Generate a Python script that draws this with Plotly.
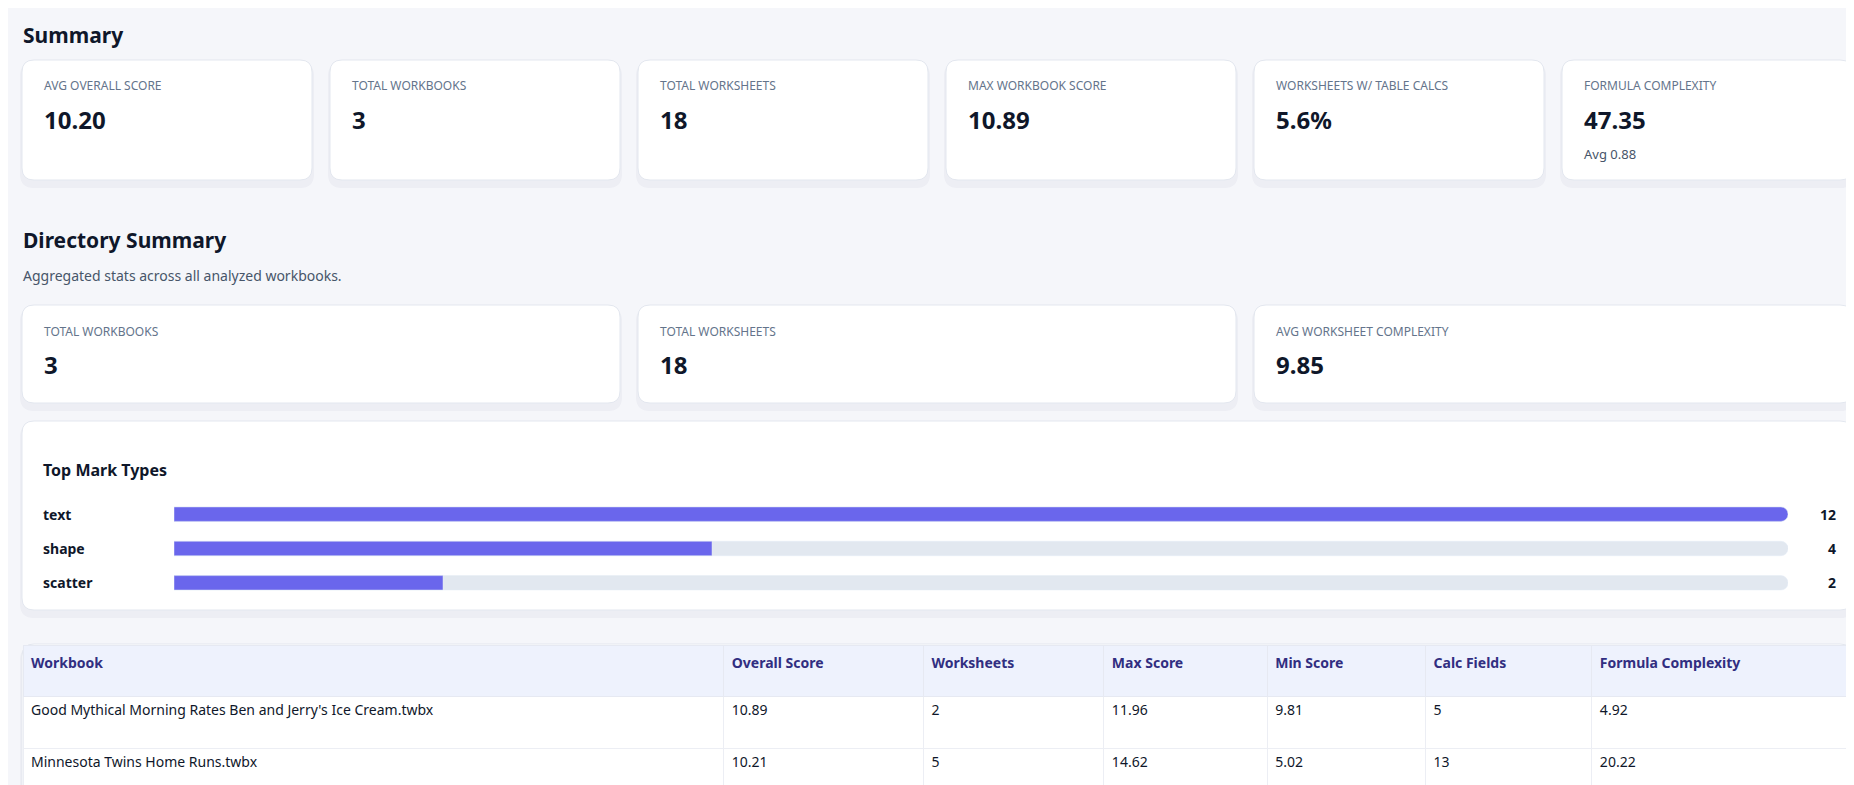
import plotly.graph_objects as go

# page body keeps an 8px margin, so the figure is drawn 8px in and 8px smaller
OFF = 8
W, H = 1854 - OFF, 785 - OFF
FONT = "Noto Sans"

summary_labels = ["AVG OVERALL SCORE", "TOTAL WORKBOOKS", "TOTAL WORKSHEETS",
                  "MAX WORKBOOK SCORE", "WORKSHEETS W/ TABLE CALCS", "FORMULA COMPLEXITY"]
summary_values = ["10.20", "3", "18", "10.89", "5.6%", "47.35"]
summary_notes = ["", "", "", "", "", "Avg 0.88"]

dir_labels = ["TOTAL WORKBOOKS", "TOTAL WORKSHEETS", "AVG WORKSHEET COMPLEXITY"]
dir_values = ["3", "18", "9.85"]

mark_types = ["text", "shape", "scatter"]
mark_counts = [12, 4, 2]

table_header = ["Workbook", "Overall Score", "Worksheets", "Max Score", "Min Score",
                "Calc Fields", "Formula Complexity"]
workbooks = ["Good Mythical Morning Rates Ben and Jerry's Ice Cream.twbx",
             "Minnesota Twins Home Runs.twbx"]
overall_score = ["10.89", "10.21"]
worksheets = ["2", "5"]
max_score = ["11.96", "14.62"]
min_score = ["9.81", "5.02"]
calc_fields = ["5", "13"]
formula_complexity = ["4.92", "20.22"]


def rrect(x0, y0, x1, y1, r=12):
    return (f"M{x0+r},{y0} L{x1-r},{y0} Q{x1},{y0} {x1},{y0+r} L{x1},{y1-r} "
            f"Q{x1},{y1} {x1-r},{y1} L{x0+r},{y1} Q{x0},{y1} {x0},{y1-r} "
            f"L{x0},{y0+r} Q{x0},{y0} {x0+r},{y0} Z")


shapes = []
annots = []


def card(x0, y0, x1, y1):
    x0, y0, x1, y1 = x0 - OFF, y0 - OFF, x1 - OFF, y1 - OFF
    shapes.append(dict(type="path", path=rrect(x0 - 2, y0 + 2, x1 + 2, y1 + 8, 14),
                       xref="x", yref="y", fillcolor="rgba(30,40,80,0.035)",
                       line=dict(width=0), layer="below"))
    shapes.append(dict(type="path", path=rrect(x0, y0, x1, y1), xref="x", yref="y",
                       fillcolor="white", line=dict(color="#e3e7ef", width=1), layer="below"))


def text(x, y, s, size, color="#0f172a", bold=False, anchor="left"):
    annots.append(dict(x=x - OFF, y=y - OFF, xref="x", yref="y",
                       text=f"<b>{s}</b>" if bold else s,
                       showarrow=False, xanchor=anchor, yanchor="middle",
                       font=dict(family=FONT, size=size, color=color)))


text(21, 35, "Summary", 21, bold=True)
for i, (lab, val, note) in enumerate(zip(summary_labels, summary_values, summary_notes)):
    x0 = 22 + i * 308
    card(x0, 60, x0 + 290, 180)
    text(x0 + 20, 85, lab, 12, "#64748b")
    text(x0 + 20, 119, val, 24, bold=True)
    if note:
        text(x0 + 20, 154, note, 13, "#475569")

text(21, 240, "Directory Summary", 21, bold=True)
text(21, 275, "Aggregated stats across all analyzed workbooks.", 14, "#475569")
for i, (lab, val) in enumerate(zip(dir_labels, dir_values)):
    x0 = 22 + i * 616
    card(x0, 305, x0 + 598, 403)
    text(x0 + 20, 331, lab, 12, "#64748b")
    text(x0 + 20, 364, val, 24, bold=True)

card(22, 421, 1852, 610)
text(41, 470, "Top Mark Types", 16, bold=True)

card(22, 644, 1852, 830)

fig = go.Figure()
vmax = max(mark_counts)
fig.add_trace(go.Bar(x=[vmax] * len(mark_types), y=mark_types, orientation="h",
                     xaxis="x2", yaxis="y2", marker=dict(color="#e2e8f0"),
                     width=0.42, hoverinfo="skip"))
fig.add_trace(go.Bar(x=mark_counts, y=mark_types, orientation="h", xaxis="x2", yaxis="y2",
                     marker=dict(color="#6a66ec"), width=0.42))
for t, c in zip(mark_types, mark_counts):
    annots.append(dict(x=41 - OFF, y=t, xref="x", yref="y2", text=f"<b>{t}</b>",
                       showarrow=False, xanchor="left",
                       font=dict(family=FONT, size=14, color="#0f172a")))
    annots.append(dict(x=1838 - OFF, y=t, xref="x", yref="y2", text=f"<b>{c}</b>",
                       showarrow=False, xanchor="right",
                       font=dict(family=FONT, size=14, color="#0f172a")))

fig.add_trace(go.Table(
    domain=dict(x=[(23 - OFF) / W, (1851 - OFF) / W], y=[0, 1 - (645 - OFF) / H]),
    columnwidth=[695, 198, 179, 162, 157, 165, 257],
    header=dict(values=[f"<b>{h}</b>" for h in table_header], align="left", height=51,
                fill_color="#eef2fd", line_color="#e6e9f2",
                font=dict(family=FONT, size=14, color="#312e81")),
    cells=dict(values=[workbooks, overall_score, worksheets, max_score, min_score,
                       calc_fields, formula_complexity], align="left", height=52,
               fill_color="white", line_color="#eceef4",
               font=dict(family=FONT, size=14, color="#0f172a")),
))

fig.update_layout(
    width=W, height=H, margin=dict(l=0, r=0, t=0, b=0),
    paper_bgcolor="#f5f6fa", plot_bgcolor="rgba(0,0,0,0)",
    showlegend=False, barmode="overlay", barcornerradius=7,
    xaxis=dict(range=[0, W], visible=False, domain=[0, 1], fixedrange=True),
    yaxis=dict(range=[H, 0], visible=False, domain=[0, 1], fixedrange=True),
    xaxis2=dict(range=[0, vmax], domain=[(174 - OFF) / W, (1788 - OFF) / W],
                visible=False, anchor="y2"),
    yaxis2=dict(domain=[1 - (600 - OFF) / H, 1 - (497 - OFF) / H], visible=False,
                anchor="x2", autorange="reversed"),
    shapes=shapes, annotations=annots,
)

fig.write_html("out.html")
